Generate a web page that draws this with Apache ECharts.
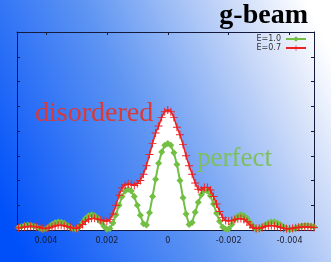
<!DOCTYPE html>
<html><head><meta charset="utf-8">
<script src="https://cdn.jsdelivr.net/npm/echarts@6/dist/echarts.min.js"></script>
<style>html,body{margin:0;padding:0;}#c{width:331px;height:262px;}</style>
</head><body><div id="c"></div>
<script>
const xs = [-0.0048,-0.0047,-0.0046,-0.0045,-0.0044,-0.0043,-0.0042,-0.0041,-0.0040,-0.0039,-0.0038,-0.0037,-0.0036,-0.0035,-0.0034,-0.0033,-0.0032,-0.0031,-0.0030,-0.0029,-0.0028,-0.0027,-0.0026,-0.0025,-0.0024,-0.0023,-0.0022,-0.0021,-0.0020,-0.0019,-0.0018,-0.0017,-0.0016,-0.0015,-0.0014,-0.0013,-0.0012,-0.0011,-0.0010,-0.0009,-0.0008,-0.0007,-0.0006,-0.0005,-0.0004,-0.0003,-0.0002,-0.0001,0,0.0001,0.0002,0.0003,0.0004,0.0005,0.0006,0.0007,0.0008,0.0009,0.0010,0.0011,0.0012,0.0013,0.0014,0.0015,0.0016,0.0017,0.0018,0.0019,0.0020,0.0021,0.0022,0.0023,0.0024,0.0025,0.0026,0.0027,0.0028,0.0029,0.0030,0.0031,0.0032,0.0033,0.0034,0.0035,0.0036,0.0037,0.0038,0.0039,0.0040,0.0041,0.0042,0.0043,0.0044,0.0045,0.0046,0.0047,0.0048,0.0049];
const perfectE10 = [0.13,0.16,0.18,0.18,0.16,0.12,0.08,0.04,0.02,0.06,0.13,0.21,0.28,0.32,0.32,0.28,0.21,0.12,0.05,0.03,0.14,0.30,0.46,0.58,0.62,0.57,0.42,0.22,0.05,0.03,0.12,0.35,0.68,1.05,1.38,1.58,1.60,1.42,1.12,0.72,0.30,0.22,0.65,1.30,2.00,2.65,3.12,3.42,3.50,3.42,3.15,2.70,2.05,1.35,0.70,0.20,0.25,0.60,1.00,1.35,1.58,1.65,1.58,1.35,1.00,0.62,0.28,0.06,0.03,0.15,0.32,0.48,0.58,0.62,0.58,0.46,0.30,0.14,0.03,0.04,0.10,0.19,0.27,0.31,0.32,0.29,0.22,0.13,0.05,0.02,0.06,0.11,0.16,0.19,0.20,0.18,0.14,0.10];
const disorderedE07 = [0.10,0.11,0.12,0.12,0.12,0.11,0.09,0.07,0.05,0.05,0.07,0.10,0.14,0.17,0.18,0.17,0.14,0.10,0.07,0.06,0.10,0.20,0.33,0.42,0.46,0.45,0.42,0.38,0.36,0.38,0.50,0.75,1.05,1.35,1.62,1.72,1.72,1.62,1.65,1.90,2.25,2.60,3.00,3.45,3.85,4.15,4.55,4.78,4.85,4.78,4.55,4.20,3.92,3.50,3.05,2.60,2.25,2.00,1.88,1.80,1.84,1.86,1.82,1.70,1.40,1.00,0.65,0.42,0.35,0.37,0.40,0.44,0.47,0.47,0.43,0.35,0.22,0.12,0.06,0.08,0.11,0.14,0.17,0.19,0.19,0.16,0.12,0.08,0.06,0.07,0.10,0.13,0.14,0.15,0.14,0.12,0.10,0.09];
const xTickValues = [0.004, 0.002, 0, -0.002, -0.004];
const xTickLabels = ['0.004', '0.002', '0', '-0.002', '-0.004'];
const seriesNames = ['E=1.0', 'E=0.7'];

const green = '#72bf44', red = '#ee2020', frame = '#141a3c';
const gData = xs.map((x, i) => [x, perfectE10[i]]);
const rData = xs.map((x, i) => [x, disorderedE07[i]]);
const plusPath = 'path://M4.4,0H5.6V4.4H10V5.6H5.6V10H4.4V5.6H0V4.4H4.4Z';
function labelFor(v) {
  for (let i = 0; i < xTickValues.length; i++) if (Math.abs(v - xTickValues[i]) < 1e-9) return xTickLabels[i];
  return '';
}
const xAxisBase = {
  type: 'value', min: -0.0048, max: 0.00495, inverse: true,
  axisLine: { show: true, onZero: false, lineStyle: { color: frame, width: 1 } },
  splitLine: { show: false },
  axisTick: { show: true, inside: true, length: 3, customValues: xTickValues, lineStyle: { color: frame } }
};
const yAxisBase = {
  type: 'value', min: 0, max: 8, interval: 1,
  axisLine: { show: true, onZero: false, lineStyle: { color: frame, width: 1 } },
  splitLine: { show: false },
  axisLabel: { show: false },
  axisTick: { show: true, inside: true, length: 3, lineStyle: { color: frame } }
};
const serif = 'Liberation Serif';
const chart = echarts.init(document.getElementById('c'), null, { renderer: 'canvas' });
chart.setOption({
  animation: false,
  backgroundColor: { type: 'linear', x: 0, y: 0.8, x2: 1, y2: 0.2,
    colorStops: [{ offset: 0, color: '#0050fa' }, { offset: 0.45, color: '#5f95f2' }, { offset: 0.8, color: '#c8d8f8' }, { offset: 1, color: '#ffffff' }] },
  title: [
    { text: 'g-beam', right: 23, top: 2, padding: 0, textStyle: { fontFamily: serif, fontSize: 28, fontWeight: 'bold', color: '#000' } },
    { text: 'disordered', left: 35, top: 100, padding: 0, textStyle: { fontFamily: serif, fontSize: 28, fontWeight: 'normal', color: '#d83a3a' } },
    { text: 'perfect', left: 197, top: 145, padding: 0, textStyle: { fontFamily: serif, fontSize: 27, fontWeight: 'normal', color: '#7dbf5c' } }
  ],
  grid: { left: 17, right: 17, top: 32, bottom: 32 },
  xAxis: [
    Object.assign({}, xAxisBase, { position: 'bottom',
      axisLabel: { show: true, margin: 7, fontSize: 8, color: '#1a1a2a', fontFamily: 'DejaVu Sans', customValues: xTickValues, formatter: labelFor } }),
    Object.assign({}, xAxisBase, { position: 'top', axisLabel: { show: false } })
  ],
  yAxis: [
    Object.assign({}, yAxisBase, { position: 'left' }),
    Object.assign({}, yAxisBase, { position: 'right' })
  ],
  legend: {
    data: seriesNames, orient: 'vertical', right: 24, top: 35, align: 'right',
    itemWidth: 20, itemHeight: 7, itemGap: 1, padding: 0,
    textStyle: { fontSize: 8, color: '#333', fontFamily: 'DejaVu Sans' }
  },
  series: [
    { name: 'fillG', type: 'line', data: gData, showSymbol: false, silent: true, z: 1,
      lineStyle: { width: 0, opacity: 0 }, areaStyle: { color: '#ffffff', opacity: 1 } },
    { name: 'fillR', type: 'line', data: rData, showSymbol: false, silent: true, z: 1,
      lineStyle: { width: 0, opacity: 0 }, areaStyle: { color: '#ffffff', opacity: 1 } },
    { name: seriesNames[0], type: 'line', data: gData, z: 3, color: green,
      symbol: 'diamond', symbolSize: 7, showAllSymbol: true,
      lineStyle: { color: green, width: 2 }, itemStyle: { color: green } },
    { name: seriesNames[1], type: 'line', data: rData, z: 4, color: red,
      symbol: plusPath, symbolSize: 8, showAllSymbol: true,
      lineStyle: { color: red, width: 1.5 }, itemStyle: { color: red } }
  ]
});
</script></body></html>
